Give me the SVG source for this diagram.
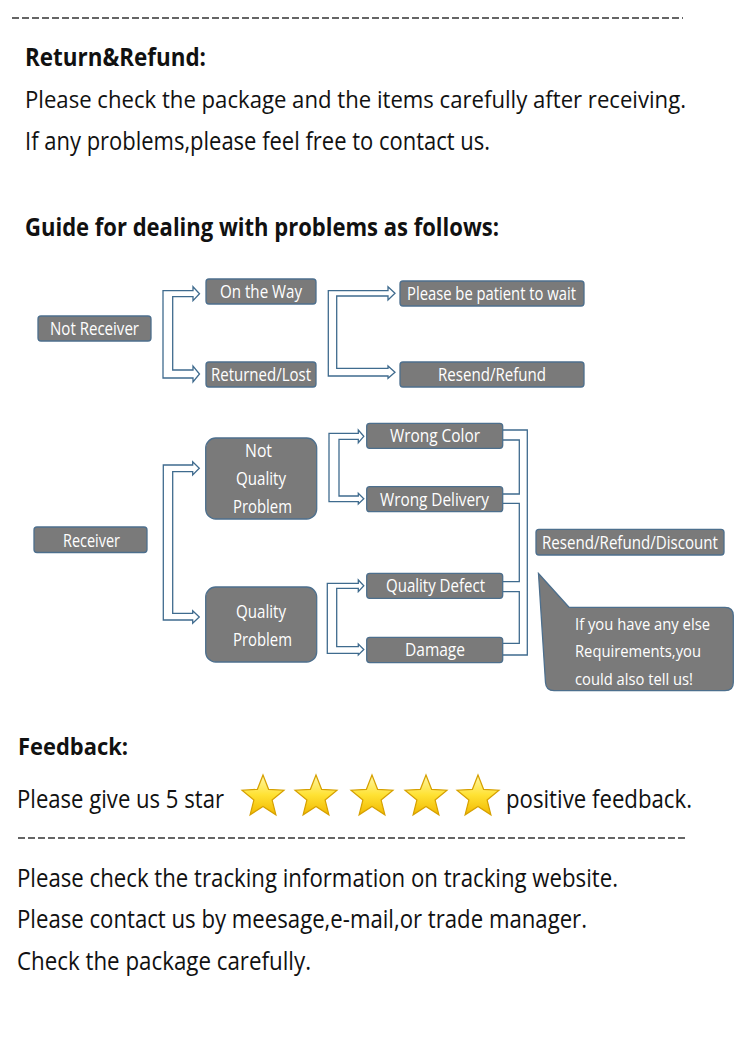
<svg xmlns="http://www.w3.org/2000/svg" width="750" height="1063" viewBox="0 0 750 1063">
<defs>
<style>
.t{font-family:"Open Sans","Noto Sans","Liberation Sans",sans-serif;fill:#111;font-size:25px}
.b{font-weight:bold}
.box{fill:#7a7a7a;stroke:#4d6f8d;stroke-width:1.3}
.lbl{font-family:"Open Sans","Noto Sans","Liberation Sans",sans-serif;fill:#fff;font-size:17.5px;text-anchor:middle}
.cl{font-family:"Open Sans","Noto Sans","Liberation Sans",sans-serif;fill:#fff;font-size:17px}
.con{fill:#fff;stroke:#3f6b8e;stroke-width:1.3;stroke-linejoin:miter}
.dash{stroke:#333;stroke-width:1.6;stroke-dasharray:7 3}
.star{fill:url(#sg);stroke:#d6a000;stroke-width:1.2}
</style>
<linearGradient id="sg" x1="0" y1="0" x2="0" y2="1">
<stop offset="0" stop-color="#fff7a8"/>
<stop offset="0.5" stop-color="#ffe234"/>
<stop offset="1" stop-color="#f2b900"/>
</linearGradient>
<polygon id="st" points="0,-22 5.6,-7.7 21,-6.8 9.1,3 12.9,17.8 0,9.5 -12.9,17.8 -9.1,3 -21,-6.8 -5.6,-7.7"/>
</defs>

<line class="dash" x1="12" y1="18" x2="683" y2="18"/>
<text class="t b" x="25" y="66" textLength="181" lengthAdjust="spacingAndGlyphs">Return&amp;Refund:</text>
<text class="t" x="25" y="108" style="font-size:24px" textLength="661" lengthAdjust="spacingAndGlyphs">Please check the package and the items carefully after receiving.</text>
<text class="t" x="25" y="150" textLength="465" lengthAdjust="spacingAndGlyphs">If any problems,please feel free to contact us.</text>
<text class="t b" x="25" y="236" textLength="474" lengthAdjust="spacingAndGlyphs">Guide for dealing with problems as follows:</text>

<g id="connectors">
<polygon class="con" points="163,290.7 193,290.7 193,286.7 199.5,293.7 193,300.7 193,296.7 172.7,296.7 172.7,370 193,370 193,366 199.5,374 193,382 193,378 163,378"/>
<polygon class="con" points="328.3,290.7 388,290.7 388,286.7 395,293.3 388,300 388,296 336.7,296 336.7,368.3 388,368.3 388,366 395,372.2 388,378.3 388,376 328.3,376"/>
<polygon class="con" points="163.3,465 192.7,465 192.7,461.7 199.3,468.3 192.7,475 192.7,471.7 172.7,471.7 172.7,613.3 192.7,613.3 192.7,610.7 199.3,617 192.7,623.3 192.7,620 163.3,620"/>
<polygon class="con" points="329,433.3 358.3,433.3 358.3,430 363.8,436.3 358.3,442.7 358.3,439.3 339,439.3 339,496 358.3,496 358.3,493.3 363.8,498.7 358.3,504 358.3,501.7 329,501.7"/>
<polygon class="con" points="327.3,583.3 358.3,583.3 358.3,580 363.8,585.8 358.3,591.7 358.3,588.3 336.7,588.3 336.7,646.7 358.3,646.7 358.3,644 363.8,649.5 358.3,655 358.3,653.3 327.3,653.3"/>
<path class="con" fill="none" d="M503,430 H527.3 V655 H503 M503,440 H519.3 V494 H503 M503,503.3 H519.3 V581.7 H503 M503,591.7 H519.3 V643.3 H503"/>
</g>

<g id="n-not-receiver"><rect class="box" x="38" y="316" width="113" height="25" rx="3"/><text class="lbl" x="94.5" y="334.5" textLength="89" lengthAdjust="spacingAndGlyphs">Not Receiver</text></g>
<g id="n-on-the-way"><rect class="box" x="206" y="279" width="110" height="25" rx="3"/><text class="lbl" x="261" y="297.5" textLength="82" lengthAdjust="spacingAndGlyphs">On the Way</text></g>
<g id="n-returned-lost"><rect class="box" x="206" y="362" width="110" height="25" rx="3"/><text class="lbl" x="261" y="380.5" textLength="100" lengthAdjust="spacingAndGlyphs">Returned/Lost</text></g>
<g id="n-patient"><rect class="box" x="400" y="281" width="184" height="25" rx="3"/><text class="lbl" x="491.5" y="299.5" textLength="169" lengthAdjust="spacingAndGlyphs">Please be patient to wait</text></g>
<g id="n-resend-refund"><rect class="box" x="400" y="362" width="184" height="25" rx="3"/><text class="lbl" x="492" y="380.5" textLength="108" lengthAdjust="spacingAndGlyphs">Resend/Refund</text></g>

<g id="n-receiver"><rect class="box" x="34" y="527" width="113" height="25.5" rx="3"/><text class="lbl" x="91.5" y="546.5" textLength="57" lengthAdjust="spacingAndGlyphs">Receiver</text></g>
<g id="n-not-quality"><rect class="box" x="205.7" y="438" width="111" height="81" rx="10"/>
<text class="lbl" x="258.5" y="456.5" textLength="27" lengthAdjust="spacingAndGlyphs">Not</text>
<text class="lbl" x="261" y="484.5" textLength="50" lengthAdjust="spacingAndGlyphs">Quality</text>
<text class="lbl" x="262.5" y="512.5" textLength="59" lengthAdjust="spacingAndGlyphs">Problem</text></g>
<g id="n-quality"><rect class="box" x="205.7" y="587" width="111" height="75" rx="10"/>
<text class="lbl" x="261" y="617.5" textLength="50" lengthAdjust="spacingAndGlyphs">Quality</text>
<text class="lbl" x="262.5" y="645.5" textLength="59" lengthAdjust="spacingAndGlyphs">Problem</text></g>

<g id="n-wrong-color"><rect class="box" x="366.7" y="423.3" width="136" height="25" rx="3"/><text class="lbl" x="435" y="442" textLength="90" lengthAdjust="spacingAndGlyphs">Wrong Color</text></g>
<g id="n-wrong-delivery"><rect class="box" x="366.7" y="486.7" width="136" height="25" rx="3"/><text class="lbl" x="434.5" y="505.5" textLength="109" lengthAdjust="spacingAndGlyphs">Wrong Delivery</text></g>
<g id="n-quality-defect"><rect class="box" x="366.7" y="573.3" width="136" height="25" rx="3"/><text class="lbl" x="435.5" y="592" textLength="99" lengthAdjust="spacingAndGlyphs">Quality Defect</text></g>
<g id="n-damage"><rect class="box" x="366.7" y="637.3" width="136" height="25.3" rx="3"/><text class="lbl" x="435" y="656" textLength="60" lengthAdjust="spacingAndGlyphs">Damage</text></g>

<g id="n-resend-refund-discount"><rect class="box" x="536" y="529.3" width="188" height="25.7" rx="3"/><text class="lbl" x="630" y="548.5" textLength="176" lengthAdjust="spacingAndGlyphs">Resend/Refund/Discount</text></g>
<g id="n-callout"><path class="box" d="M538.5,573.5 L569,607.3 H725 Q733.3,607.3 733.3,615.5 V682.5 Q733.3,690.7 725,690.7 H554 Q546,690.7 545.5,682.5 Z"/>
<text class="cl" x="575" y="630" textLength="135" lengthAdjust="spacingAndGlyphs">If you have any else</text>
<text class="cl" x="575" y="657" textLength="126" lengthAdjust="spacingAndGlyphs">Requirements,you</text>
<text class="cl" x="575" y="685" textLength="118" lengthAdjust="spacingAndGlyphs">could also tell us!</text></g>

<text class="t b" x="18" y="755" style="font-size:23px" textLength="110" lengthAdjust="spacingAndGlyphs">Feedback:</text>
<text class="t" x="17" y="808" textLength="207" lengthAdjust="spacingAndGlyphs">Please give us 5 star</text>
<g id="stars">
<use href="#st" class="star" x="263" y="797"/>
<use href="#st" class="star" x="316" y="797"/>
<use href="#st" class="star" x="372" y="797"/>
<use href="#st" class="star" x="426" y="797"/>
<use href="#st" class="star" x="478" y="797"/>
</g>
<text class="t" x="506" y="808" textLength="186" lengthAdjust="spacingAndGlyphs">positive feedback.</text>
<line class="dash" x1="18" y1="838" x2="686" y2="838"/>
<text class="t" x="17" y="887" textLength="601" lengthAdjust="spacingAndGlyphs">Please check the tracking information on tracking website.</text>
<text class="t" x="17" y="928" textLength="570" lengthAdjust="spacingAndGlyphs">Please contact us by meesage,e-mail,or trade manager.</text>
<text class="t" x="17" y="970" textLength="294" lengthAdjust="spacingAndGlyphs">Check the package carefully.</text>
</svg>
